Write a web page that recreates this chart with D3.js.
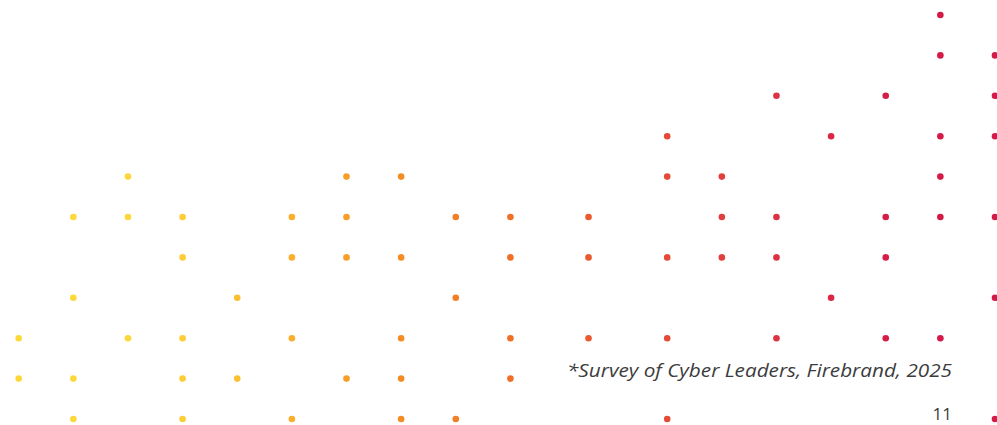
<!DOCTYPE html>
<html>
<head>
<meta charset="utf-8">
<script src="https://cdn.jsdelivr.net/npm/d3@7"></script>
<style>
  html, body { margin: 0; padding: 0; background: #fff; }
  svg { display: block; }
  .note { font-family: "Open Sans", "Noto Sans", sans-serif; font-style: italic; fill: #3c3c3c; }
  .page { font-family: "Open Sans", "Noto Sans", sans-serif; fill: #3c3c3c; }
</style>
</head>
<body>
<div id="chart"></div>
<script>
document.addEventListener("DOMContentLoaded", function(event) {

// column positions (grid units)
var columns = [0, 1, 2, 3, 4, 5, 6, 7, 8, 9, 10.43, 11.87, 12.87, 13.87, 14.87, 15.87, 16.87, 17.87];

// which columns hold a dot on each row (row 0 = top)
var rows = [
  [16],
  [16, 17],
  [13, 15, 17],
  [11, 14, 16, 17],
  [2, 6, 7, 11, 12, 16],
  [1, 2, 3, 5, 6, 8, 9, 10, 12, 13, 15, 16, 17],
  [3, 5, 6, 7, 9, 10, 11, 12, 13, 15],
  [1, 4, 8, 14, 17],
  [0, 2, 3, 5, 7, 9, 10, 11, 13, 15, 16],
  [0, 1, 3, 4, 6, 7, 9],
  [1, 3, 5, 7, 8, 11, 17]
];

var colorStops = ["#fdd83a", "#fdd83a", "#fbc834", "#f8a82a", "#f48a24", "#f07026", "#ea5630", "#e2433c", "#dc2d45", "#d61a48", "#d51a48"];
var footnote = "*Survey of Cyber Leaders, Firebrand, 2025";
var pageNumber = "11";

var width = 997, height = 425;

var dots = [];
rows.forEach(function (cols, r) {
  cols.forEach(function (c) {
    dots.push({ row: r, col: columns[c] });
  });
});

var xScale = d3.scaleLinear()
  .domain([0, 17.87])
  .range([18.7, 995]);

var yScale = d3.scaleLinear()
  .domain([0, 10])
  .range([15, 419]);

var colorScale = d3.scaleLinear()
  .domain(d3.range(colorStops.length).map(function (i) {
    return i * 17.87 / (colorStops.length - 1);
  }))
  .range(colorStops);

var svg = d3.select("#chart")
  .append("svg")
  .attr("width", width)
  .attr("height", height);

svg.selectAll(".dot")
  .data(dots)
  .enter().append("circle")
  .attr("class", "dot")
  .attr("r", 3.3)
  .attr("cx", function (d) { return xScale(d.col); })
  .attr("cy", function (d) { return yScale(d.row); })
  .style("fill", function (d) { return colorScale(d.col); });

svg.append("text")
  .attr("class", "note")
  .attr("x", 952)
  .attr("y", 377)
  .attr("text-anchor", "end")
  .attr("font-size", 18)
  .attr("textLength", 385)
  .attr("lengthAdjust", "spacingAndGlyphs")
  .text(footnote);

svg.append("text")
  .attr("class", "page")
  .attr("x", 952)
  .attr("y", 420)
  .attr("text-anchor", "end")
  .attr("font-size", 17)
  .text(pageNumber);

});
</script>
</body>
</html>
